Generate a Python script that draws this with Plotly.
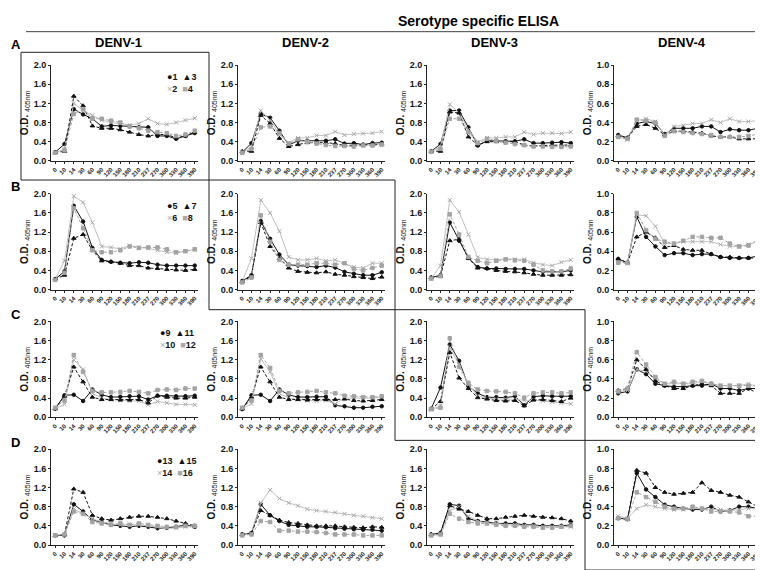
import plotly.graph_objects as go

days = ["0", "10", "14", "30", "60", "90", "120", "150", "180", "210", "237", "270", "300", "330", "360", "390"]
serotypes = ["DENV-1", "DENV-2", "DENV-3", "DENV-4"]
rows = ["A", "B", "C", "D"]
patient_ids = [["1", "2", "3", "4"], ["5", "6", "7", "8"], ["9", "10", "11", "12"], ["13", "14", "15", "16"]]

# each panel: [circle series, x series, triangle series, square series]
A_DENV1 = [
    [0.18, 0.35, 1.08, 0.97, 0.88, 0.72, 0.74, 0.73, 0.72, 0.70, 0.70, 0.52, 0.52, 0.46, 0.52, 0.58],
    [0.17, 0.25, 1.20, 1.05, 0.95, 0.85, 0.80, 0.78, 0.75, 0.78, 0.88, 0.78, 0.76, 0.80, 0.85, 0.89],
    [0.18, 0.20, 1.35, 1.15, 0.73, 0.68, 0.68, 0.65, 0.60, 0.55, 0.52, 0.55, 0.55, 0.48, 0.52, 0.60],
    [0.17, 0.22, 0.98, 1.08, 0.88, 0.88, 0.84, 0.80, 0.72, 0.68, 0.63, 0.60, 0.58, 0.52, 0.55, 0.63],
]
A_DENV2 = [
    [0.18, 0.37, 0.98, 0.90, 0.63, 0.33, 0.42, 0.42, 0.42, 0.42, 0.45, 0.36, 0.37, 0.34, 0.37, 0.38],
    [0.17, 0.30, 1.05, 0.85, 0.55, 0.38, 0.48, 0.48, 0.53, 0.53, 0.61, 0.54, 0.56, 0.57, 0.58, 0.61],
    [0.20, 0.20, 0.95, 0.78, 0.47, 0.30, 0.34, 0.38, 0.38, 0.38, 0.36, 0.32, 0.33, 0.33, 0.33, 0.35],
    [0.17, 0.25, 0.70, 0.72, 0.58, 0.36, 0.45, 0.40, 0.36, 0.33, 0.31, 0.31, 0.30, 0.32, 0.32, 0.34],
]
A_DENV3 = [
    [0.20, 0.35, 1.05, 1.05, 0.70, 0.32, 0.42, 0.42, 0.41, 0.41, 0.45, 0.37, 0.37, 0.38, 0.39, 0.37],
    [0.19, 0.30, 1.18, 1.00, 0.65, 0.40, 0.48, 0.48, 0.50, 0.50, 0.60, 0.55, 0.58, 0.58, 0.57, 0.60],
    [0.20, 0.20, 1.02, 1.00, 0.50, 0.33, 0.40, 0.40, 0.40, 0.40, 0.33, 0.31, 0.32, 0.33, 0.33, 0.33],
    [0.19, 0.25, 0.88, 0.88, 0.60, 0.37, 0.46, 0.42, 0.38, 0.35, 0.33, 0.30, 0.30, 0.29, 0.29, 0.30],
]
A_DENV4 = [
    [0.27, 0.24, 0.39, 0.41, 0.39, 0.28, 0.34, 0.34, 0.34, 0.36, 0.36, 0.30, 0.33, 0.32, 0.32, 0.34],
    [0.25, 0.22, 0.42, 0.44, 0.41, 0.27, 0.36, 0.37, 0.39, 0.39, 0.43, 0.40, 0.44, 0.41, 0.41, 0.42],
    [0.26, 0.24, 0.36, 0.38, 0.34, 0.27, 0.31, 0.31, 0.30, 0.29, 0.26, 0.25, 0.25, 0.23, 0.23, 0.23],
    [0.25, 0.23, 0.43, 0.42, 0.40, 0.26, 0.31, 0.30, 0.29, 0.28, 0.27, 0.25, 0.25, 0.25, 0.26, 0.28],
]
B_DENV1 = [
    [0.22, 0.38, 1.75, 1.42, 0.87, 0.62, 0.58, 0.56, 0.55, 0.57, 0.56, 0.52, 0.50, 0.50, 0.50, 0.50],
    [0.22, 0.60, 1.95, 1.82, 1.40, 0.90, 0.88, 0.85, 0.92, 0.88, 0.86, 0.82, 0.78, 0.76, 0.80, 0.84],
    [0.22, 0.30, 1.07, 1.15, 0.82, 0.60, 0.58, 0.55, 0.50, 0.50, 0.45, 0.44, 0.42, 0.41, 0.40, 0.42],
    [0.20, 0.35, 1.70, 1.28, 0.82, 0.78, 0.78, 0.82, 0.90, 0.87, 0.88, 0.88, 0.84, 0.78, 0.80, 0.84],
]
B_DENV2 = [
    [0.18, 0.30, 1.43, 1.06, 0.73, 0.52, 0.50, 0.49, 0.47, 0.50, 0.46, 0.37, 0.33, 0.30, 0.30, 0.36],
    [0.17, 0.65, 1.87, 1.60, 1.22, 0.68, 0.62, 0.62, 0.65, 0.60, 0.62, 0.55, 0.47, 0.45, 0.55, 0.55],
    [0.17, 0.28, 1.40, 0.90, 0.65, 0.45, 0.38, 0.36, 0.35, 0.37, 0.32, 0.30, 0.27, 0.25, 0.23, 0.26],
    [0.15, 0.25, 1.55, 1.00, 0.62, 0.52, 0.52, 0.52, 0.55, 0.55, 0.52, 0.55, 0.43, 0.40, 0.45, 0.50],
]
B_DENV3 = [
    [0.25, 0.30, 1.40, 1.02, 0.66, 0.47, 0.44, 0.44, 0.43, 0.43, 0.43, 0.40, 0.37, 0.37, 0.37, 0.40],
    [0.23, 0.50, 1.87, 1.62, 1.15, 0.67, 0.63, 0.62, 0.64, 0.63, 0.63, 0.56, 0.52, 0.50, 0.57, 0.62],
    [0.25, 0.28, 1.02, 1.05, 0.65, 0.45, 0.44, 0.40, 0.38, 0.37, 0.35, 0.32, 0.30, 0.30, 0.30, 0.31],
    [0.23, 0.28, 1.57, 1.15, 0.68, 0.60, 0.55, 0.60, 0.63, 0.61, 0.60, 0.52, 0.40, 0.38, 0.38, 0.44],
]
B_DENV4 = [
    [0.32, 0.28, 0.76, 0.55, 0.45, 0.36, 0.38, 0.38, 0.36, 0.37, 0.37, 0.34, 0.33, 0.33, 0.33, 0.35],
    [0.30, 0.27, 0.78, 0.77, 0.66, 0.48, 0.48, 0.50, 0.50, 0.50, 0.50, 0.47, 0.45, 0.45, 0.47, 0.50],
    [0.32, 0.28, 0.55, 0.60, 0.54, 0.44, 0.46, 0.42, 0.41, 0.41, 0.37, 0.34, 0.34, 0.33, 0.33, 0.33],
    [0.28, 0.28, 0.80, 0.62, 0.53, 0.50, 0.48, 0.51, 0.55, 0.55, 0.54, 0.54, 0.48, 0.45, 0.46, 0.52],
]
C_DENV1 = [
    [0.18, 0.46, 0.47, 0.34, 0.58, 0.47, 0.42, 0.43, 0.44, 0.44, 0.37, 0.45, 0.45, 0.44, 0.44, 0.45],
    [0.18, 0.27, 1.20, 1.00, 0.50, 0.40, 0.37, 0.35, 0.34, 0.34, 0.26, 0.33, 0.30, 0.27, 0.27, 0.26],
    [0.18, 0.44, 1.05, 0.74, 0.42, 0.37, 0.37, 0.36, 0.36, 0.37, 0.30, 0.45, 0.42, 0.40, 0.40, 0.42],
    [0.20, 0.35, 1.30, 0.95, 0.55, 0.52, 0.52, 0.53, 0.55, 0.53, 0.50, 0.57, 0.58, 0.57, 0.60, 0.60],
]
C_DENV2 = [
    [0.17, 0.46, 0.47, 0.34, 0.58, 0.47, 0.42, 0.42, 0.43, 0.43, 0.25, 0.23, 0.20, 0.20, 0.22, 0.23],
    [0.18, 0.28, 1.22, 0.95, 0.50, 0.40, 0.37, 0.35, 0.34, 0.35, 0.28, 0.40, 0.40, 0.40, 0.40, 0.42],
    [0.18, 0.42, 1.05, 0.74, 0.42, 0.37, 0.37, 0.36, 0.37, 0.37, 0.37, 0.38, 0.35, 0.34, 0.35, 0.37],
    [0.20, 0.35, 1.30, 1.03, 0.55, 0.50, 0.52, 0.53, 0.55, 0.52, 0.50, 0.45, 0.44, 0.42, 0.42, 0.44],
]
C_DENV3 = [
    [0.18, 0.62, 1.52, 1.18, 0.65, 0.50, 0.42, 0.42, 0.41, 0.44, 0.25, 0.43, 0.45, 0.44, 0.44, 0.44],
    [0.16, 0.24, 1.45, 1.10, 0.68, 0.45, 0.40, 0.38, 0.38, 0.38, 0.35, 0.36, 0.34, 0.32, 0.30, 0.28],
    [0.17, 0.33, 1.35, 0.82, 0.60, 0.41, 0.38, 0.35, 0.34, 0.35, 0.24, 0.36, 0.37, 0.35, 0.33, 0.40],
    [0.17, 0.20, 1.65, 1.05, 0.72, 0.58, 0.55, 0.54, 0.53, 0.50, 0.41, 0.50, 0.52, 0.52, 0.50, 0.52],
]
C_DENV4 = [
    [0.25, 0.27, 0.50, 0.45, 0.35, 0.33, 0.32, 0.32, 0.33, 0.33, 0.35, 0.30, 0.30, 0.28, 0.30, 0.30],
    [0.27, 0.28, 0.50, 0.48, 0.40, 0.35, 0.35, 0.35, 0.35, 0.37, 0.35, 0.33, 0.33, 0.33, 0.35, 0.32],
    [0.28, 0.30, 0.60, 0.50, 0.38, 0.33, 0.30, 0.30, 0.33, 0.35, 0.33, 0.25, 0.25, 0.25, 0.30, 0.25],
    [0.27, 0.30, 0.68, 0.55, 0.42, 0.35, 0.37, 0.35, 0.37, 0.38, 0.35, 0.33, 0.33, 0.33, 0.33, 0.33],
]
D_DENV1 = [
    [0.20, 0.20, 0.85, 0.70, 0.52, 0.48, 0.42, 0.40, 0.38, 0.40, 0.38, 0.35, 0.36, 0.38, 0.42, 0.38],
    [0.20, 0.22, 0.75, 0.65, 0.55, 0.48, 0.45, 0.42, 0.42, 0.42, 0.40, 0.38, 0.35, 0.35, 0.38, 0.38],
    [0.20, 0.22, 1.17, 1.10, 0.62, 0.55, 0.52, 0.55, 0.58, 0.60, 0.60, 0.58, 0.55, 0.50, 0.45, 0.40],
    [0.20, 0.22, 0.70, 0.65, 0.48, 0.45, 0.42, 0.45, 0.42, 0.45, 0.42, 0.40, 0.38, 0.38, 0.40, 0.40],
]
D_DENV2 = [
    [0.22, 0.25, 0.85, 0.62, 0.50, 0.42, 0.40, 0.38, 0.38, 0.37, 0.35, 0.34, 0.33, 0.32, 0.32, 0.30],
    [0.22, 0.25, 0.88, 1.15, 0.97, 0.88, 0.82, 0.75, 0.72, 0.70, 0.68, 0.65, 0.62, 0.60, 0.57, 0.55],
    [0.22, 0.25, 0.72, 0.62, 0.52, 0.47, 0.45, 0.42, 0.40, 0.40, 0.40, 0.38, 0.37, 0.36, 0.38, 0.37],
    [0.20, 0.22, 0.50, 0.48, 0.30, 0.30, 0.28, 0.28, 0.27, 0.25, 0.22, 0.22, 0.22, 0.20, 0.20, 0.20],
]
D_DENV3 = [
    [0.22, 0.25, 0.85, 0.82, 0.55, 0.50, 0.48, 0.45, 0.45, 0.45, 0.42, 0.42, 0.40, 0.40, 0.40, 0.42],
    [0.20, 0.22, 0.72, 0.80, 0.60, 0.50, 0.45, 0.45, 0.42, 0.42, 0.40, 0.40, 0.38, 0.38, 0.38, 0.38],
    [0.22, 0.25, 0.82, 0.75, 0.70, 0.62, 0.55, 0.55, 0.58, 0.60, 0.62, 0.60, 0.58, 0.57, 0.55, 0.50],
    [0.20, 0.22, 0.65, 0.55, 0.48, 0.45, 0.45, 0.42, 0.40, 0.40, 0.38, 0.38, 0.36, 0.36, 0.38, 0.40],
]
D_DENV4 = [
    [0.28, 0.27, 0.75, 0.58, 0.50, 0.42, 0.40, 0.38, 0.37, 0.37, 0.40, 0.35, 0.36, 0.40, 0.40, 0.38],
    [0.30, 0.28, 0.38, 0.42, 0.40, 0.38, 0.37, 0.37, 0.38, 0.38, 0.37, 0.37, 0.36, 0.37, 0.38, 0.38],
    [0.28, 0.27, 0.78, 0.75, 0.60, 0.55, 0.53, 0.54, 0.55, 0.65, 0.57, 0.55, 0.52, 0.50, 0.45, 0.40],
    [0.28, 0.27, 0.55, 0.50, 0.45, 0.40, 0.38, 0.38, 0.40, 0.38, 0.35, 0.35, 0.35, 0.34, 0.30, 0.30],
]

panels = [
    [A_DENV1, A_DENV2, A_DENV3, A_DENV4],
    [B_DENV1, B_DENV2, B_DENV3, B_DENV4],
    [C_DENV1, C_DENV2, C_DENV3, C_DENV4],
    [D_DENV1, D_DENV2, D_DENV3, D_DENV4],
]

W, H = 763, 570
FONT = "Liberation Sans, Arial, sans-serif"
styles = [
    dict(color="#111111", symbol="circle", size=3.5, dash="solid", mcolor="#111111"),
    dict(color="#c0c0c0", symbol="x-thin-open", size=4, dash="solid", mcolor="#a8a8a8"),
    dict(color="#111111", symbol="triangle-up", size=4, dash="3px,2px", mcolor="#111111"),
    dict(color="#a3a3a3", symbol="square", size=3.5, dash="3px,2px", mcolor="#a3a3a3"),
]

col_left = [43, 230, 419, 606]
pw = 147
row_top = [53, 184, 314, 444]
ph = 97.5
letter_y = [32, 177, 307, 437]

fig = go.Figure()
layout = dict()
annotations = []
for r in range(4):
    for c in range(4):
        k = r * 4 + c + 1
        xn = "x" if k == 1 else f"x{k}"
        yn = "y" if k == 1 else f"y{k}"
        xa = "xaxis" if k == 1 else f"xaxis{k}"
        ya = "yaxis" if k == 1 else f"yaxis{k}"
        data = panels[r][c]
        for s in range(4):
            st = styles[s]
            fig.add_trace(go.Scatter(
                x=days, y=data[s], xaxis=xn, yaxis=yn, mode="lines+markers",
                line=dict(color=st["color"], width=1, dash=st["dash"]),
                marker=dict(symbol=st["symbol"], size=st["size"], color=st["mcolor"],
                            line=dict(color=st["mcolor"], width=1)),
                showlegend=False, hoverinfo="skip"))
        x0 = col_left[c] / W
        x1 = (col_left[c] + pw) / W
        y1 = 1 - row_top[r] / H
        y0 = 1 - (row_top[r] + ph) / H
        ymax = 1.0 if c == 3 else 2.0
        dt = 0.2 if c == 3 else 0.4
        layout[xa] = dict(
            domain=[x0, x1], anchor=yn, type="category", range=[-0.45, 15.35],
            showline=True, linecolor="#222", linewidth=1, ticks="outside", ticklen=2,
            tickcolor="#222", tickangle=-45, showgrid=False, zeroline=False,
            tickfont=dict(family=FONT, size=6, color="#222", weight="bold"))
        layout[ya] = dict(
            domain=[y0, y1], anchor=xn, range=[0, ymax], tick0=0, dtick=dt,
            tickformat=".1f", showline=True, linecolor="#222", linewidth=1,
            ticks="outside", ticklen=2, tickcolor="#222", showgrid=False, zeroline=False,
            tickfont=dict(family=FONT, size=9, color="#111", weight="bold"),
            title=dict(text="<b>O.D.</b> <sub>405nm</sub>", font=dict(family=FONT, size=10, color="#111"),
                       standoff=3))
    # key in first column
    ids = patient_ids[r]
    key_x = (col_left[0] + pw) / W
    key_y = 1 - (row_top[r] + 5) / H
    line1 = (f"<span style='color:#111'>●</span><b>{ids[0]}</b>  "
             f"<span style='color:#111'>▲</span><b>{ids[2]}</b>")
    line2 = (f"<span style='color:#aaa'>×</span><b>{ids[1]}</b>  "
             f"<span style='color:#aaa'>■</span><b>{ids[3]}</b>")
    annotations.append(dict(text=line1 + "<br>" + line2, x=key_x, y=key_y, xref="paper", yref="paper",
                            xanchor="right", yanchor="top", showarrow=False, align="left",
                            font=dict(family=FONT, size=9, color="#111")))
    # row letter
    annotations.append(dict(text=f"<b>{rows[r]}</b>", x=1 / W, y=1 - letter_y[r] / H,
                            xref="paper", yref="paper", xanchor="left", yanchor="middle",
                            showarrow=False, font=dict(family=FONT, size=13, color="#000")))

# column headers
for c in range(4):
    annotations.append(dict(text=f"<b>{serotypes[c]}</b>", x=(col_left[c] + pw / 2 - 6) / W, y=1 - 30 / H,
                            xref="paper", yref="paper", xanchor="center", yanchor="middle",
                            showarrow=False, font=dict(family=FONT, size=13, color="#000")))
annotations.append(dict(text="<b>Serotype specific ELISA</b>", x=470 / W, y=1 - 8 / H, xref="paper", yref="paper",
                        xanchor="center", yanchor="middle", showarrow=False,
                        font=dict(family=FONT, size=14, color="#000")))

shapes = [dict(type="line", xref="paper", yref="paper", x0=18 / W, x1=755 / W,
               y0=1 - 19 / H, y1=1 - 19 / H, line=dict(color="#444", width=1))]
boxes = [(13, 40, 201, 170), (201, 170, 387, 302), (387, 302, 577, 435), (577, 435, 760, 567)]
for (bx0, by0, bx1, by1) in boxes:
    shapes.append(dict(type="rect", xref="paper", yref="paper", x0=bx0 / W, x1=bx1 / W,
                       y0=1 - by1 / H, y1=1 - by0 / H, line=dict(color="#222", width=1)))

fig.update_layout(**layout)
fig.update_layout(width=W, height=H, autosize=False, margin=dict(l=0, r=0, t=0, b=0),
                  paper_bgcolor="white", plot_bgcolor="white", annotations=annotations,
                  shapes=shapes, showlegend=False)
fig.write_html("out.html")
